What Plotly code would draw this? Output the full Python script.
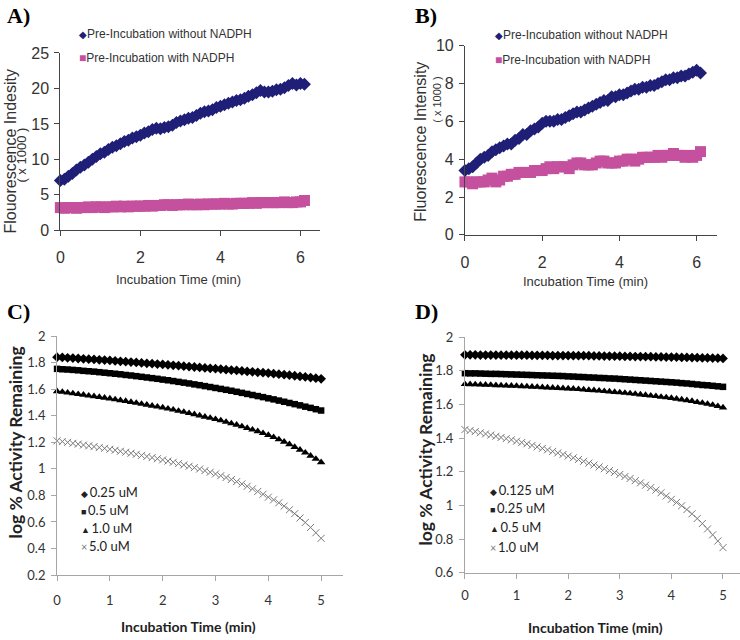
import plotly.graph_objects as go

# ---------------- data ----------------
time_ab = [0.0, 0.1, 0.2, 0.3, 0.4, 0.5, 0.6, 0.7, 0.8, 0.9,
           1.0, 1.1, 1.2, 1.3, 1.4, 1.5, 1.6, 1.7, 1.8, 1.9,
           2.0, 2.1, 2.2, 2.3, 2.4, 2.5, 2.6, 2.7, 2.8, 2.9,
           3.0, 3.1, 3.2, 3.3, 3.4, 3.5, 3.6, 3.7, 3.8, 3.9,
           4.0, 4.1, 4.2, 4.3, 4.4, 4.5, 4.6, 4.7, 4.8, 4.9,
           5.0, 5.1, 5.2, 5.3, 5.4, 5.5, 5.6, 5.7, 5.8, 5.9,
           6.0, 6.1]

a_without = [7.0, 7.2, 7.6, 8.0, 8.5, 8.9, 9.2, 9.6, 10.0, 10.4,
             10.8, 11.0, 11.4, 11.7, 11.9, 12.2, 12.5, 12.7, 13.0, 13.2,
             13.4, 13.7, 13.9, 14.2, 14.4, 14.3, 14.5, 14.6, 14.8, 15.2,
             15.4, 15.6, 15.8, 15.9, 16.2, 16.5, 16.7, 16.8, 17.0, 17.3,
             17.5, 17.7, 17.9, 18.1, 18.3, 18.4, 18.6, 18.9, 19.1, 19.4,
             19.7, 19.5, 19.5, 19.6, 19.8, 19.9, 20.1, 20.4, 20.7, 20.5,
             20.7, 20.6]
a_with = [3.2, 3.1, 3.2, 3.2, 3.1, 3.2, 3.2, 3.3, 3.2, 3.3,
          3.3, 3.2, 3.3, 3.3, 3.4, 3.3, 3.4, 3.3, 3.4, 3.4,
          3.4, 3.4, 3.5, 3.4, 3.5, 3.5, 3.6, 3.6, 3.5, 3.6,
          3.6, 3.6, 3.7, 3.6, 3.6, 3.7, 3.6, 3.7, 3.7, 3.7,
          3.7, 3.8, 3.7, 3.7, 3.8, 3.8, 3.8, 3.8, 3.9, 3.8,
          3.9, 3.9, 3.9, 3.9, 3.9, 3.9, 4.0, 3.9, 3.9, 4.0,
          4.0, 4.2]

b_without = [3.4, 3.5, 3.6, 3.8, 4.0, 4.1, 4.2, 4.4, 4.5, 4.6,
             4.7, 4.8, 4.8, 5.0, 5.1, 5.3, 5.3, 5.5, 5.6, 5.7,
             5.9, 6.0, 6.0, 6.0, 6.1, 6.1, 6.2, 6.3, 6.4, 6.5,
             6.5, 6.6, 6.7, 6.8, 6.9, 7.0, 7.1, 7.1, 7.3, 7.3,
             7.4, 7.4, 7.5, 7.6, 7.7, 7.7, 7.8, 7.8, 7.9, 7.9,
             8.0, 8.1, 8.2, 8.2, 8.3, 8.3, 8.4, 8.4, 8.5, 8.6,
             8.7, 8.55]
b_with = [2.8, 2.8, 2.7, 2.8, 2.8, 2.8, 2.9, 3.0, 2.8, 2.9,
          3.1, 3.1, 3.2, 3.2, 3.3, 3.3, 3.3, 3.3, 3.4, 3.4,
          3.4, 3.5, 3.6, 3.5, 3.6, 3.6, 3.6, 3.5, 3.7, 3.8,
          3.8, 3.7, 3.7, 3.7, 3.8, 3.9, 3.9, 3.8, 3.8, 3.8,
          3.9, 3.9, 4.0, 4.0, 3.9, 4.0, 4.1, 4.1, 4.1, 4.1,
          4.2, 4.1, 4.2, 4.2, 4.3, 4.2, 4.2, 4.1, 4.2, 4.1,
          4.2, 4.4]

time_cd = [0.0, 0.1, 0.2, 0.3, 0.4, 0.5, 0.6, 0.7, 0.8, 0.9,
           1.0, 1.1, 1.2, 1.3, 1.4, 1.5, 1.6, 1.7, 1.8, 1.9,
           2.0, 2.1, 2.2, 2.3, 2.4, 2.5, 2.6, 2.7, 2.8, 2.9,
           3.0, 3.1, 3.2, 3.3, 3.4, 3.5, 3.6, 3.7, 3.8, 3.9,
           4.0, 4.1, 4.2, 4.3, 4.4, 4.5, 4.6, 4.7, 4.8, 4.9,
           5.0]

c_025 = [1.842, 1.840, 1.837, 1.835, 1.832, 1.830, 1.827, 1.825, 1.822, 1.820,
         1.817, 1.814, 1.811, 1.808, 1.805, 1.802, 1.799, 1.796, 1.793, 1.790,
         1.787, 1.784, 1.781, 1.778, 1.774, 1.771, 1.768, 1.765, 1.761, 1.758,
         1.755, 1.752, 1.748, 1.745, 1.742, 1.738, 1.735, 1.732, 1.728, 1.725,
         1.722, 1.718, 1.714, 1.710, 1.706, 1.702, 1.697, 1.693, 1.688, 1.684,
         1.679]
c_05 = [1.754, 1.751, 1.749, 1.746, 1.743, 1.739, 1.736, 1.733, 1.729, 1.725,
        1.721, 1.717, 1.713, 1.708, 1.704, 1.699, 1.694, 1.689, 1.684, 1.679,
        1.673, 1.668, 1.662, 1.656, 1.650, 1.644, 1.637, 1.631, 1.624, 1.617,
        1.610, 1.603, 1.596, 1.589, 1.581, 1.573, 1.565, 1.557, 1.549, 1.541,
        1.532, 1.524, 1.515, 1.506, 1.497, 1.488, 1.479, 1.469, 1.460, 1.450,
        1.440]
c_10 = [1.585, 1.580, 1.574, 1.569, 1.563, 1.558, 1.552, 1.547, 1.541, 1.536,
        1.530, 1.524, 1.517, 1.511, 1.504, 1.497, 1.490, 1.483, 1.476, 1.469,
        1.462, 1.454, 1.446, 1.437, 1.429, 1.420, 1.411, 1.402, 1.393, 1.384,
        1.375, 1.365, 1.354, 1.343, 1.332, 1.320, 1.308, 1.296, 1.283, 1.269,
        1.255, 1.239, 1.222, 1.204, 1.185, 1.165, 1.144, 1.122, 1.099, 1.075,
        1.050]
c_50 = [1.212, 1.206, 1.200, 1.193, 1.187, 1.180, 1.174, 1.168, 1.161, 1.155,
        1.148, 1.141, 1.133, 1.126, 1.118, 1.110, 1.102, 1.094, 1.085, 1.077,
        1.068, 1.059, 1.050, 1.040, 1.030, 1.020, 1.010, 0.999, 0.987, 0.975,
        0.962, 0.949, 0.935, 0.920, 0.904, 0.887, 0.869, 0.850, 0.830, 0.809,
        0.787, 0.767, 0.745, 0.720, 0.692, 0.663, 0.630, 0.596, 0.559, 0.519,
        0.477]

d_0125 = [1.895, 1.895, 1.895, 1.894, 1.894, 1.894, 1.894, 1.893, 1.893, 1.893,
          1.893, 1.893, 1.893, 1.892, 1.892, 1.892, 1.892, 1.891, 1.891, 1.891,
          1.891, 1.890, 1.890, 1.890, 1.890, 1.889, 1.889, 1.888, 1.888, 1.887,
          1.887, 1.886, 1.886, 1.885, 1.885, 1.884, 1.884, 1.883, 1.883, 1.882,
          1.882, 1.881, 1.880, 1.880, 1.879, 1.878, 1.877, 1.877, 1.876, 1.875,
          1.874]
d_025 = [1.786, 1.785, 1.785, 1.784, 1.783, 1.782, 1.782, 1.781, 1.780, 1.779,
         1.778, 1.777, 1.776, 1.775, 1.774, 1.773, 1.772, 1.771, 1.770, 1.769,
         1.767, 1.766, 1.764, 1.763, 1.761, 1.760, 1.758, 1.757, 1.755, 1.754,
         1.752, 1.750, 1.748, 1.746, 1.744, 1.742, 1.740, 1.738, 1.736, 1.734,
         1.732, 1.730, 1.727, 1.725, 1.722, 1.719, 1.716, 1.714, 1.711, 1.708,
         1.705]
d_05 = [1.721, 1.720, 1.719, 1.718, 1.717, 1.716, 1.714, 1.713, 1.712, 1.711,
        1.710, 1.708, 1.707, 1.705, 1.704, 1.702, 1.701, 1.699, 1.698, 1.696,
        1.695, 1.693, 1.691, 1.689, 1.686, 1.684, 1.682, 1.679, 1.677, 1.674,
        1.672, 1.669, 1.666, 1.663, 1.659, 1.656, 1.652, 1.649, 1.645, 1.642,
        1.638, 1.634, 1.629, 1.625, 1.620, 1.614, 1.609, 1.603, 1.597, 1.590,
        1.582]
d_10 = [1.451, 1.445, 1.439, 1.432, 1.425, 1.418, 1.411, 1.404, 1.397, 1.390,
        1.382, 1.374, 1.366, 1.357, 1.348, 1.339, 1.330, 1.321, 1.312, 1.303,
        1.293, 1.283, 1.273, 1.262, 1.251, 1.240, 1.229, 1.218, 1.207, 1.196,
        1.184, 1.172, 1.160, 1.147, 1.134, 1.120, 1.106, 1.091, 1.075, 1.056,
        1.036, 1.018, 0.998, 0.975, 0.950, 0.922, 0.892, 0.860, 0.825, 0.788,
        0.749]

ab_names = ["Pre-Incubation without NADPH", "Pre-Incubation with NADPH"]
c_names = ["0.25 uM", "0.5 uM", "1.0 uM", "5.0 uM"]
d_names = ["0.125 uM", "0.25 uM", "0.5 uM", "1.0 uM"]

# ---------------- styling ----------------
W, H = 740, 640
BLUE = "#1f1f78"
PINK = "#c4509e"
BLACK = "#000000"
GRAYX = "#7a7a7a"
ARIAL = "Liberation Sans, Arial, sans-serif"
CAL = "Lato, Open Sans, sans-serif"
SERIF = "Liberation Serif, Times New Roman, serif"

# the photographed page is slightly shrunk around its centre; these map
# target picture pixels to figure pixels
SX, OX = 0.9917, 2.1
SY, OY = 0.974, 8.3


def fx(X):
    return (X - OX) / SX


def fy(Y):
    return (Y - OY) / SY


def px(X):
    return fx(X) / W


def py(Y):
    return 1 - fy(Y) / H


def xgeom(X0, v0, X1, v1, Xs, Xe):
    f0, f1 = fx(X0), fx(X1)
    s = (f1 - f0) / (v1 - v0)
    fs, fe = max(fx(Xs), 0.0), min(fx(Xe), W)
    return [fs / W, fe / W], [v0 + (fs - f0) / s, v0 + (fe - f0) / s]


def ygeom(Y0, v0, Y1, v1, Yb, Yt):
    f0, f1 = fy(Y0), fy(Y1)
    s = (f0 - f1) / (v1 - v0)
    fb, ft = min(fy(Yb), H), max(fy(Yt), 0.0)
    return [1 - fb / H, 1 - ft / H], [v0 - (fb - f0) / s, v0 + (f0 - ft) / s]


fig = go.Figure()

# Panel A
fig.add_trace(go.Scatter(x=time_ab, y=a_with, mode="markers", name=ab_names[1],
                         marker=dict(symbol="square", size=11, color=PINK),
                         xaxis="x", yaxis="y", cliponaxis=False))
fig.add_trace(go.Scatter(x=time_ab, y=a_without, mode="markers", name=ab_names[0],
                         marker=dict(symbol="diamond", size=10, color=BLUE),
                         xaxis="x", yaxis="y", cliponaxis=False))
# Panel B
fig.add_trace(go.Scatter(x=time_ab, y=b_with, mode="markers", name=ab_names[1],
                         marker=dict(symbol="square", size=11, color=PINK),
                         xaxis="x2", yaxis="y2", cliponaxis=False))
fig.add_trace(go.Scatter(x=time_ab, y=b_without, mode="markers", name=ab_names[0],
                         marker=dict(symbol="diamond", size=10, color=BLUE),
                         xaxis="x2", yaxis="y2", cliponaxis=False))


def cd_traces(vals, names, xa, ya):
    syms = ["diamond", "square", "triangle-up", "x-thin"]
    sizes = [7.5, 6.5, 7.5, 7]
    for v, n, s, sz in zip(vals, names, syms, sizes):
        if s == "x-thin":
            mk = dict(symbol=s, size=sz, color=GRAYX, line=dict(color=GRAYX, width=1))
        else:
            mk = dict(symbol=s, size=sz, color=BLACK, line=dict(width=0))
        fig.add_trace(go.Scatter(x=time_cd, y=v, mode="markers", name=n, marker=mk,
                                 xaxis=xa, yaxis=ya, cliponaxis=False))


cd_traces([c_025, c_05, c_10, c_50], c_names, "x3", "y3")
cd_traces([d_0125, d_025, d_05, d_10], d_names, "x4", "y4")


def ax(geom, dtick, anchor, color, font, size, standoff):
    domain, rng = geom
    return dict(domain=domain, range=rng, dtick=dtick, tick0=0, anchor=anchor,
                showline=True, linecolor=color, linewidth=1,
                ticks="outside", ticklen=5, tickcolor=color, tickwidth=1,
                showgrid=False, zeroline=False, fixedrange=True,
                tickfont=dict(family=font, size=size, color="#333333"),
                ticklabelstandoff=standoff)


fig.update_layout(
    width=W, height=H, autosize=False,
    margin=dict(l=0, r=0, t=0, b=0, pad=0),
    paper_bgcolor="white", plot_bgcolor="white",
    showlegend=False,
    xaxis=ax(xgeom(58.3, 0, 297.7, 6, 58.3, 316.7), 2, "y", "#444444", ARIAL, 16, 8),
    yaxis=ax(ygeom(230.7, 0, 53.3, 25, 230.7, 53.3), 5, "x", "#444444", ARIAL, 16, 2),
    xaxis2=ax(xgeom(461.7, 0, 692.7, 6, 461.7, 713), 2, "y2", "#444444", ARIAL, 16, 8),
    yaxis2=ax(ygeom(235.3, 0, 46, 10, 235.3, 46), 2, "x2", "#444444", ARIAL, 16, 2),
    xaxis3=ax(xgeom(55, 0, 318.3, 5, 55, 340), 1, "y3", "#a6a6a6", CAL, 13, 8),
    yaxis3=ax(ygeom(575.7, 0.2, 336.7, 2, 575.7, 336.7), 0.2, "x3", "#a6a6a6", CAL, 13, 3),
    xaxis4=ax(xgeom(461.7, 0, 719, 5, 461.7, 740), 1, "y4", "#a6a6a6", CAL, 13, 6),
    yaxis4=ax(ygeom(573.3, 0.6, 337.7, 2, 573.3, 337.7), 0.2, "x4", "#a6a6a6", CAL, 13, 3),
)
fig.update_layout(yaxis3_tick0=0.2, yaxis4_tick0=0.6)

ann = []


def text(x, y, t, font, size, color="#222222", angle=0, xanchor="center", bold=False):
    ann.append(dict(xref="paper", yref="paper", x=px(x), y=py(y), text=("<b>%s</b>" % t) if bold else t,
                    showarrow=False, textangle=angle, xanchor=xanchor, yanchor="middle",
                    font=dict(family=font, size=size, color=color)))


# panel labels
for lab, x, y in [("A)", 3, 16), ("B)", 410, 16), ("C)", 3, 312), ("D)", 410, 312)]:
    text(x, y, lab, SERIF, 22, "#000000", xanchor="left", bold=True)

# A / B axis titles
text(176, 280, "Incubation Time (min)", ARIAL, 13, "#333333")
text(582, 282, "Incubation Time (min)", ARIAL, 13, "#333333")
text(9, 151, "Flouorescence Indesity", ARIAL, 16, "#333333", angle=-90)
text(20, 155, "( x 1000 )", ARIAL, 13, "#333333", angle=-90)
text(418, 142, "Fluorescence Intensity", ARIAL, 16, "#333333", angle=-90)
text(433, 100, "( x 1000 )", ARIAL, 11, "#333333", angle=-90)

# A / B legends
for (lx, ly1, ly2) in [(75, 34, 58), (490, 35, 60)]:
    text(lx, ly1, '<span style="color:%s;font-size:10px">◆</span>%s' % (BLUE, ab_names[0]), ARIAL, 12, "#333333", xanchor="left")
    text(lx, ly2, '<span style="color:%s;font-size:12px">■</span>%s' % (PINK, ab_names[1]), ARIAL, 12, "#333333", xanchor="left")

# C / D axis titles
text(186, 627, "Incubation Time (min)", CAL, 14, "#222222", bold=True)
text(592, 628, "Incubation Time (min)", CAL, 14, "#222222", bold=True)
text(14, 443, "log % Activity Remaining", CAL, 17.5, "#222222", angle=-90, bold=True)
text(422, 450, "log % Activity Remaining", CAL, 17.5, "#222222", angle=-90, bold=True)

# C / D legends
glyphs = ['<span style="font-size:9px">◆</span>', '<span style="font-size:9px">■</span>',
          '<span style="font-size:9px">▲</span>', '<span style="color:#7a7a7a;font-size:11px">×</span>']
for (lx, ys, names) in [(77, [493, 511, 529, 547], c_names), (485, [491, 509, 528, 548], d_names)]:
    for g, yv, n in zip(glyphs, ys, names):
        text(lx, yv, "%s&#8201;%s" % (g, n), CAL, 13, "#222222", xanchor="left")

fig.update_layout(annotations=ann)
fig.write_html("out.html", config={"displayModeBar": False},
               post_script="document.body.style.margin='0';document.body.style.overflow='hidden';")
